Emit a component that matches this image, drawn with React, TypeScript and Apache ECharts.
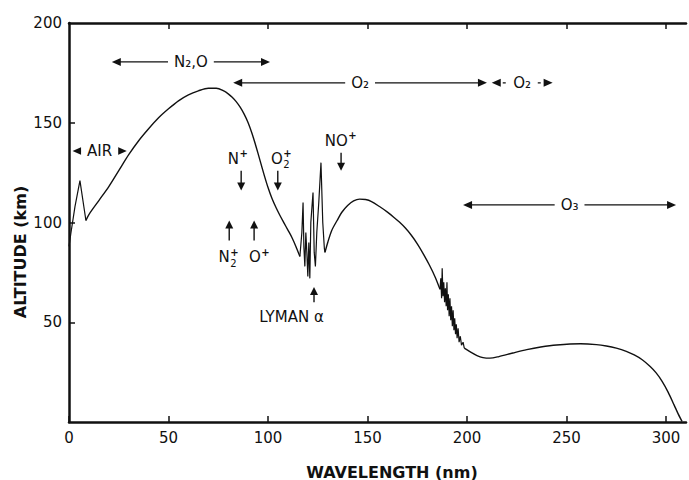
import React, { useEffect, useRef } from "react";
import * as echarts from "echarts";

// Penetration altitude of solar radiation vs wavelength,
// split into pieces: smooth stretches and the jagged band structure.
const airWl = [0, 1, 3, 5.5, 8.5];
const airAlt = [88, 95, 108, 121, 101];

const n2oWl = [8.5, 10, 15, 20, 25, 30, 35, 40, 45, 50, 55, 60, 65, 70, 74, 78, 80, 82, 84, 86, 88, 90, 92, 94, 96, 98, 100, 102, 104, 106, 108, 110, 112, 114, 116];
const n2oAlt = [101, 104, 111, 118, 126, 134, 141, 147, 152.5, 157, 161, 164, 166, 167.3, 167.3, 165.8, 164.5, 162.8, 160.6, 157.8, 154.3, 150, 144.5, 138, 131, 124, 117.5, 112, 107.5, 103.5, 99.8, 96.2, 92.5, 88, 83];

const lymanWl = [116, 117, 117.6, 118, 118.5, 119, 119.5, 120, 120.5, 121, 121.5, 122.6, 123.2, 123.8, 124.5, 125.5, 126.6, 127.5, 128.3, 128.6];
const lymanAlt = [83, 95, 110, 88, 78, 95, 85, 73, 90, 72, 100, 115, 85, 78, 95, 110, 130, 100, 87, 85];

const o2Wl = [128.6, 130, 132, 134.7, 137, 140, 143, 146, 149, 152, 156, 160, 163, 166, 169, 172, 175, 178, 181, 184, 186.4];
const o2Alt = [85, 90, 96, 101, 105, 108.5, 110.8, 111.7, 111.5, 110.5, 108, 105.2, 102.8, 100.2, 97.2, 93.6, 89.3, 84.3, 78.8, 72.6, 66.5];

const srWl = [186.4, 186.8, 187.2, 187.5, 187.9, 188.3, 188.7, 189.1, 189.5, 189.9, 190.2, 190.6, 191, 191.4, 191.8, 192.2, 192.6, 193, 193.4, 193.8, 194.2, 194.6, 195, 195.5, 196, 196.6, 197.2, 198, 198.6];
const srAlt = [66.5, 72, 62, 77, 63, 70, 60, 67, 58, 70, 56, 64, 53, 62, 51, 58, 48, 56, 46, 52, 44, 49, 42, 47, 40, 43, 38.5, 40, 37];

const o3Wl = [198.6, 201, 205, 208, 211.5, 216, 223, 230, 237, 245, 257, 265, 270, 275, 280, 284, 288, 292, 295, 298, 301, 304, 306, 308];
const o3Alt = [37, 35.5, 33.3, 32.3, 32, 32.8, 34.6, 36.3, 37.6, 38.6, 39.2, 38.8, 38.1, 37, 35.4, 33.6, 31.2, 27.8, 24.6, 20.4, 15, 8.6, 4.2, 0.3];

const xTickValues = [0, 50, 100, 150, 200, 250, 300];
const topTickValues = [50, 100, 150, 200, 250, 300];
const yTickValues = [50, 100, 150];
const yLabelValues = [50, 100, 150, 200];

// Absorber bands (horizontal double arrows)
const bandNames = ["N₂,O", "O₂", "O₂", "O₃", "AIR"];
const bandFrom = [21.5, 82.5, 212.4, 198, 1.8];
const bandTo = [101, 210, 243, 305, 29];
const bandAlt = [180.5, 170, 170, 108.8, 135.8];
const bandDashed = [false, false, true, false, false];

// Ionization thresholds (vertical arrows): base text, stacked superscript / subscript
const ionBase = ["N", "O", "NO", "N", "O", "LYMAN α"];
const ionSup = ["+", "+", "+", "+", "+", ""];
const ionSub = ["", "2", "", "2", "", ""];
const ionLabelX = [84.7, 106.5, 136.4, 80, 95.5, 111.8];
const ionLabelAlt = [132, 132, 141, 82.7, 82.7, 52.6];
const ionArrowX = [86.5, 104.9, 136.7, 80.5, 93, 123.1];
const ionArrowFrom = [126, 126, 135, 91, 91, 60];
const ionArrowTo = [116, 116, 126, 101, 101, 67.7];

const FONT = "DejaVu Sans";
const INK = "#111";

export default function App() {
  const ref = useRef<HTMLDivElement>(null);
  useEffect(() => {
    if (!ref.current) return;
    const chart = echarts.init(ref.current, null, { renderer: "svg" });
    const axisLine = { show: true, onZero: false, lineStyle: { color: INK, width: 2.5 } };
    const pieces: [number[], number[], boolean][] = [
      [airWl, airAlt, false],
      [n2oWl, n2oAlt, true],
      [lymanWl, lymanAlt, false],
      [o2Wl, o2Alt, true],
      [srWl, srAlt, false],
      [o3Wl, o3Alt, true],
    ];
    chart.setOption({
      animation: false,
      backgroundColor: "#fff",
      grid: { left: 69, top: 23, right: 3, bottom: 58 },
      xAxis: [
        {
          type: "value", min: 0, max: 310, interval: 50, position: "bottom",
          axisLine,
          axisTick: { show: true, inside: true, length: 6, customValues: xTickValues, lineStyle: { color: INK, width: 1.5 } },
          axisLabel: { customValues: xTickValues, fontFamily: FONT, fontSize: 15, color: INK, margin: 8,
            formatter: (v: number) => (v % 50 === 0 ? String(v) : "") },
          splitLine: { show: false },
        },
        {
          type: "value", min: 0, max: 310, interval: 50, position: "top",
          axisLine,
          axisTick: { show: true, inside: true, length: 6, customValues: topTickValues, lineStyle: { color: INK, width: 1.5 } },
          axisLabel: { show: false },
          splitLine: { show: false },
        },
      ],
      yAxis: {
        type: "value", min: 0, max: 200, interval: 50,
        axisLine,
        axisTick: { show: true, inside: true, length: 6, customValues: yTickValues, lineStyle: { color: INK, width: 1.5 } },
        axisLabel: { customValues: yLabelValues, fontFamily: FONT, fontSize: 15, color: INK, margin: 7,
          formatter: (v: number) => (v === 0 ? "" : String(v)) },
        splitLine: { show: false },
      },
      series: pieces.map(([wl, alt, smooth]) => ({
        type: "line", xAxisIndex: 0, yAxisIndex: 0,
        data: wl.map((w, i) => [w, alt[i]]),
        showSymbol: false, symbol: "none", silent: true,
        smooth: smooth ? 0.3 : false,
        lineStyle: { color: INK, width: smooth ? 1.4 : 1.2 },
      })),
    });

    const px = (x: number, y: number) =>
      chart.convertToPixel({ xAxisIndex: 0, yAxisIndex: 0 }, [x, y]) as number[];
    const head = (tip: number[], dx: number, dy: number, len = 9, half = 4) => ({
      type: "polygon",
      z: 10,
      shape: {
        points: [
          tip,
          [tip[0] - dx * len - dy * half, tip[1] - dy * len + dx * half],
          [tip[0] - dx * len + dy * half, tip[1] - dy * len - dx * half],
        ],
      },
      style: { fill: INK },
    });
    const ctx = document.createElement("canvas").getContext("2d")!;
    const measure = (s: string, size: number) => {
      ctx.font = `${size}px "${FONT}"`;
      return ctx.measureText(s).width;
    };
    const g: any[] = [];
    bandNames.forEach((name, i) => {
      const a = px(bandFrom[i], bandAlt[i]);
      const b = px(bandTo[i], bandAlt[i]);
      g.push({
        type: "line", z: 10,
        shape: { x1: a[0] + 4, y1: a[1], x2: b[0] - 4, y2: b[1] },
        style: { stroke: INK, lineWidth: 1.3, lineDash: bandDashed[i] ? [3, 4] : null },
      });
      g.push(head(a, -1, 0));
      g.push(head(b, 1, 0));
      g.push({
        type: "text", z: 20,
        x: (a[0] + b[0]) / 2, y: a[1],
        style: {
          text: name, fill: INK, fontFamily: FONT, fontSize: 15,
          align: "center", verticalAlign: "middle",
          backgroundColor: "#fff", padding: [1, 6],
        },
      });
    });
    ionBase.forEach((base, i) => {
      const a = px(ionArrowX[i], ionArrowFrom[i]);
      const b = px(ionArrowX[i], ionArrowTo[i]);
      const dir = b[1] > a[1] ? 1 : -1;
      g.push({
        type: "line", z: 10,
        shape: { x1: a[0], y1: a[1], x2: b[0], y2: b[1] - dir * 4 },
        style: { stroke: INK, lineWidth: 1.4 },
      });
      g.push(head(b, 0, dir, 8, 4));
      const t = px(ionLabelX[i], ionLabelAlt[i]);
      const wBase = measure(base, 15);
      const hasExtra = ionSup[i] || ionSub[i];
      const wExtra = hasExtra ? measure("+", 10) : 0;
      const left = t[0] - (wBase + wExtra) / 2;
      g.push({
        type: "text", z: 20, x: left, y: t[1],
        style: { text: base, fill: INK, fontFamily: FONT, fontSize: 15, align: "left", verticalAlign: "middle" },
      });
      if (ionSup[i]) {
        g.push({
          type: "text", z: 20, x: left + wBase + 0.5, y: t[1] - 5,
          style: { text: ionSup[i], fill: INK, fontFamily: FONT, fontSize: 10, fontWeight: "bold", align: "left", verticalAlign: "middle" },
        });
      }
      if (ionSub[i]) {
        g.push({
          type: "text", z: 20, x: left + wBase + 0.5, y: t[1] + 6,
          style: { text: ionSub[i], fill: INK, fontFamily: FONT, fontSize: 10, align: "left", verticalAlign: "middle" },
        });
      }
    });
    g.push({
      type: "text", x: 20, y: 252, rotation: Math.PI / 2,
      style: { text: "ALTITUDE (km)", fill: INK, fontFamily: FONT, fontSize: 16, fontWeight: "bold", align: "center", verticalAlign: "middle" },
    });
    g.push({
      type: "text", x: 392, y: 472,
      style: { text: "WAVELENGTH (nm)", fill: INK, fontFamily: FONT, fontSize: 16, fontWeight: "bold", align: "center", verticalAlign: "middle" },
    });
    chart.setOption({ graphic: g });
    return () => chart.dispose();
  }, []);
  return (
    <div
      ref={ref}
      style={{ position: "fixed", left: 0, top: 0, width: 689, height: 480, background: "#fff" }}
    />
  );
}
